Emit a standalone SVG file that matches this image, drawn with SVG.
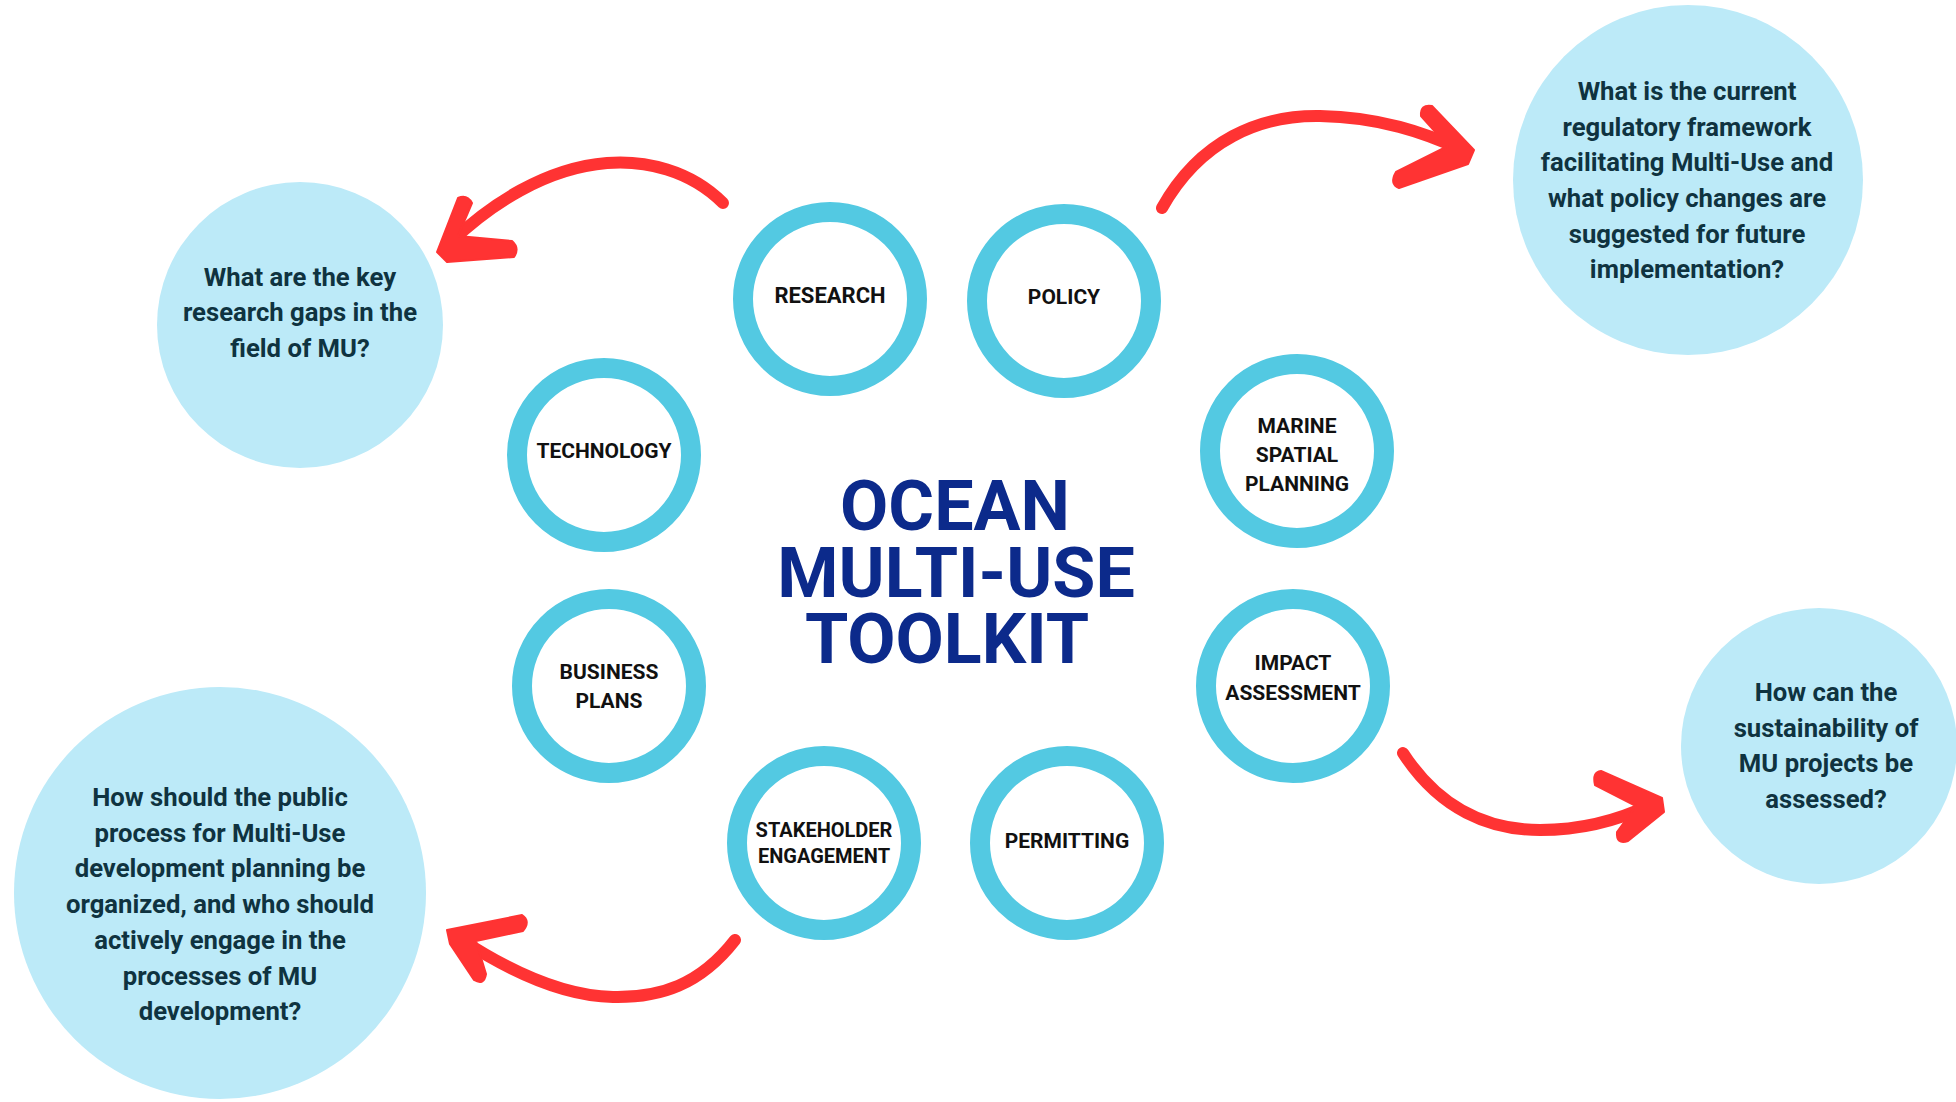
<svg xmlns="http://www.w3.org/2000/svg" width="1956" height="1102" viewBox="0 0 1956 1102">
<style>
.ring{fill:#fff;stroke:#53C9E2;stroke-width:20}
.bub{fill:#BCEAF8}
.lbl{font-family:Roboto,"Liberation Sans",sans-serif;font-weight:700;font-size:21px;fill:#111;text-anchor:middle}
.lbs{font-size:20px}
.q{font-family:Roboto,"Liberation Sans",sans-serif;font-weight:700;font-size:25.7px;fill:#0F3340;text-anchor:middle}
.title{font-family:Roboto,"Liberation Sans",sans-serif;font-weight:700;font-size:70px;fill:#0C2A8B;text-anchor:middle}
.shaft{fill:none;stroke:#FF3333;stroke-width:12;stroke-linecap:round}
.head{fill:#FF3333;stroke:#FF3333;stroke-width:2;stroke-linejoin:round}
</style>
<rect width="1956" height="1102" fill="#fff"/>
<g id="q-research">
<circle class="bub" cx="300" cy="325" r="143"/>
<text class="q" x="300" y="286">What are the key</text>
<text class="q" x="300" y="321">research gaps in the</text>
<text class="q" x="300" y="357">field of MU?</text>
</g>
<g id="q-policy">
<circle class="bub" cx="1688" cy="180" r="175"/>
<text class="q" x="1687" y="100">What is the current</text>
<text class="q" x="1687" y="136">regulatory framework</text>
<text class="q" x="1687" y="171">facilitating Multi-Use and</text>
<text class="q" x="1687" y="207">what policy changes are</text>
<text class="q" x="1687" y="243">suggested for future</text>
<text class="q" x="1687" y="278">implementation?</text>
</g>
<g id="q-stakeholder">
<circle class="bub" cx="220" cy="893" r="206"/>
<text class="q" x="220" y="806">How should the public</text>
<text class="q" x="220" y="842">process for Multi-Use</text>
<text class="q" x="220" y="877">development planning be</text>
<text class="q" x="220" y="913">organized, and who should</text>
<text class="q" x="220" y="949">actively engage in the</text>
<text class="q" x="220" y="985">processes of MU</text>
<text class="q" x="220" y="1020">development?</text>
</g>
<g id="q-impact">
<circle class="bub" cx="1819" cy="746" r="138"/>
<text class="q" x="1826" y="701">How can the</text>
<text class="q" x="1826" y="737">sustainability of</text>
<text class="q" x="1826" y="772">MU projects be</text>
<text class="q" x="1826" y="808">assessed?</text>
</g>
<g id="title">
<text class="title" x="955" y="530">OCEAN</text>
<text class="title" x="956" y="597">MULTI-USE</text>
<text class="title" x="947" y="663">TOOLKIT</text>
</g>
<g id="n-research">
<circle class="ring" cx="830" cy="299" r="87"/>
<text class="lbl" x="830" y="303" style="font-size:22px">RESEARCH</text>
</g>
<g id="n-policy">
<circle class="ring" cx="1064" cy="301" r="87"/>
<text class="lbl" x="1064" y="304">POLICY</text>
</g>
<g id="n-technology">
<circle class="ring" cx="604" cy="455" r="87"/>
<text class="lbl" x="604" y="458">TECHNOLOGY</text>
</g>
<g id="n-msp">
<circle class="ring" cx="1297" cy="451" r="87"/>
<text class="lbl" x="1297" y="433">MARINE</text>
<text class="lbl" x="1297" y="462">SPATIAL</text>
<text class="lbl" x="1297" y="491">PLANNING</text>
</g>
<g id="n-business">
<circle class="ring" cx="609" cy="686" r="87"/>
<text class="lbl" x="609" y="679">BUSINESS</text>
<text class="lbl" x="609" y="708">PLANS</text>
</g>
<g id="n-impact">
<circle class="ring" cx="1293" cy="686" r="87"/>
<text class="lbl" x="1293" y="670">IMPACT</text>
<text class="lbl" x="1293" y="700">ASSESSMENT</text>
</g>
<g id="n-stakeholder">
<circle class="ring" cx="824" cy="843" r="87"/>
<text class="lbl lbs" x="824" y="837">STAKEHOLDER</text>
<text class="lbl lbs" x="824" y="863">ENGAGEMENT</text>
</g>
<g id="n-permitting">
<circle class="ring" cx="1067" cy="843" r="87"/>
<text class="lbl" x="1067" y="848">PERMITTING</text>
</g>
<g id="connectors">
<path class="shaft" d="M723,203 C690,170 645,160 607,163 C545,168 490,205 452,241"/>
<path class="head" d="M437,252 L458,198 Q467,194 472,203 L458,236 L512,241 Q520,248 514,257 L447,262 Z"/>
<path class="shaft" d="M1162,208 C1200,140 1260,115 1320,116 C1380,117 1425,133 1460,149"/>
<path class="head" d="M1474,150 L1432,106 Q1420,104 1421,116 L1448,146 L1396,172 Q1389,184 1399,188 L1468,164 Z"/>
<path class="shaft" d="M1403,753 C1440,810 1490,830 1540,830 C1590,830 1625,817 1650,805"/>
<path class="head" d="M1662,798 L1601,771 Q1592,772 1595,785 L1636,806 L1617,832 Q1616,845 1628,841 L1664,812 Z"/>
<path class="shaft" d="M735,940 C700,985 660,998 613,997 C560,996 505,968 462,940"/>
<path class="head" d="M447,930 L522,915 Q531,921 523,931 L476,941 L486,974 Q484,986 474,980 L450,944 Z"/>
</g>
</svg>
